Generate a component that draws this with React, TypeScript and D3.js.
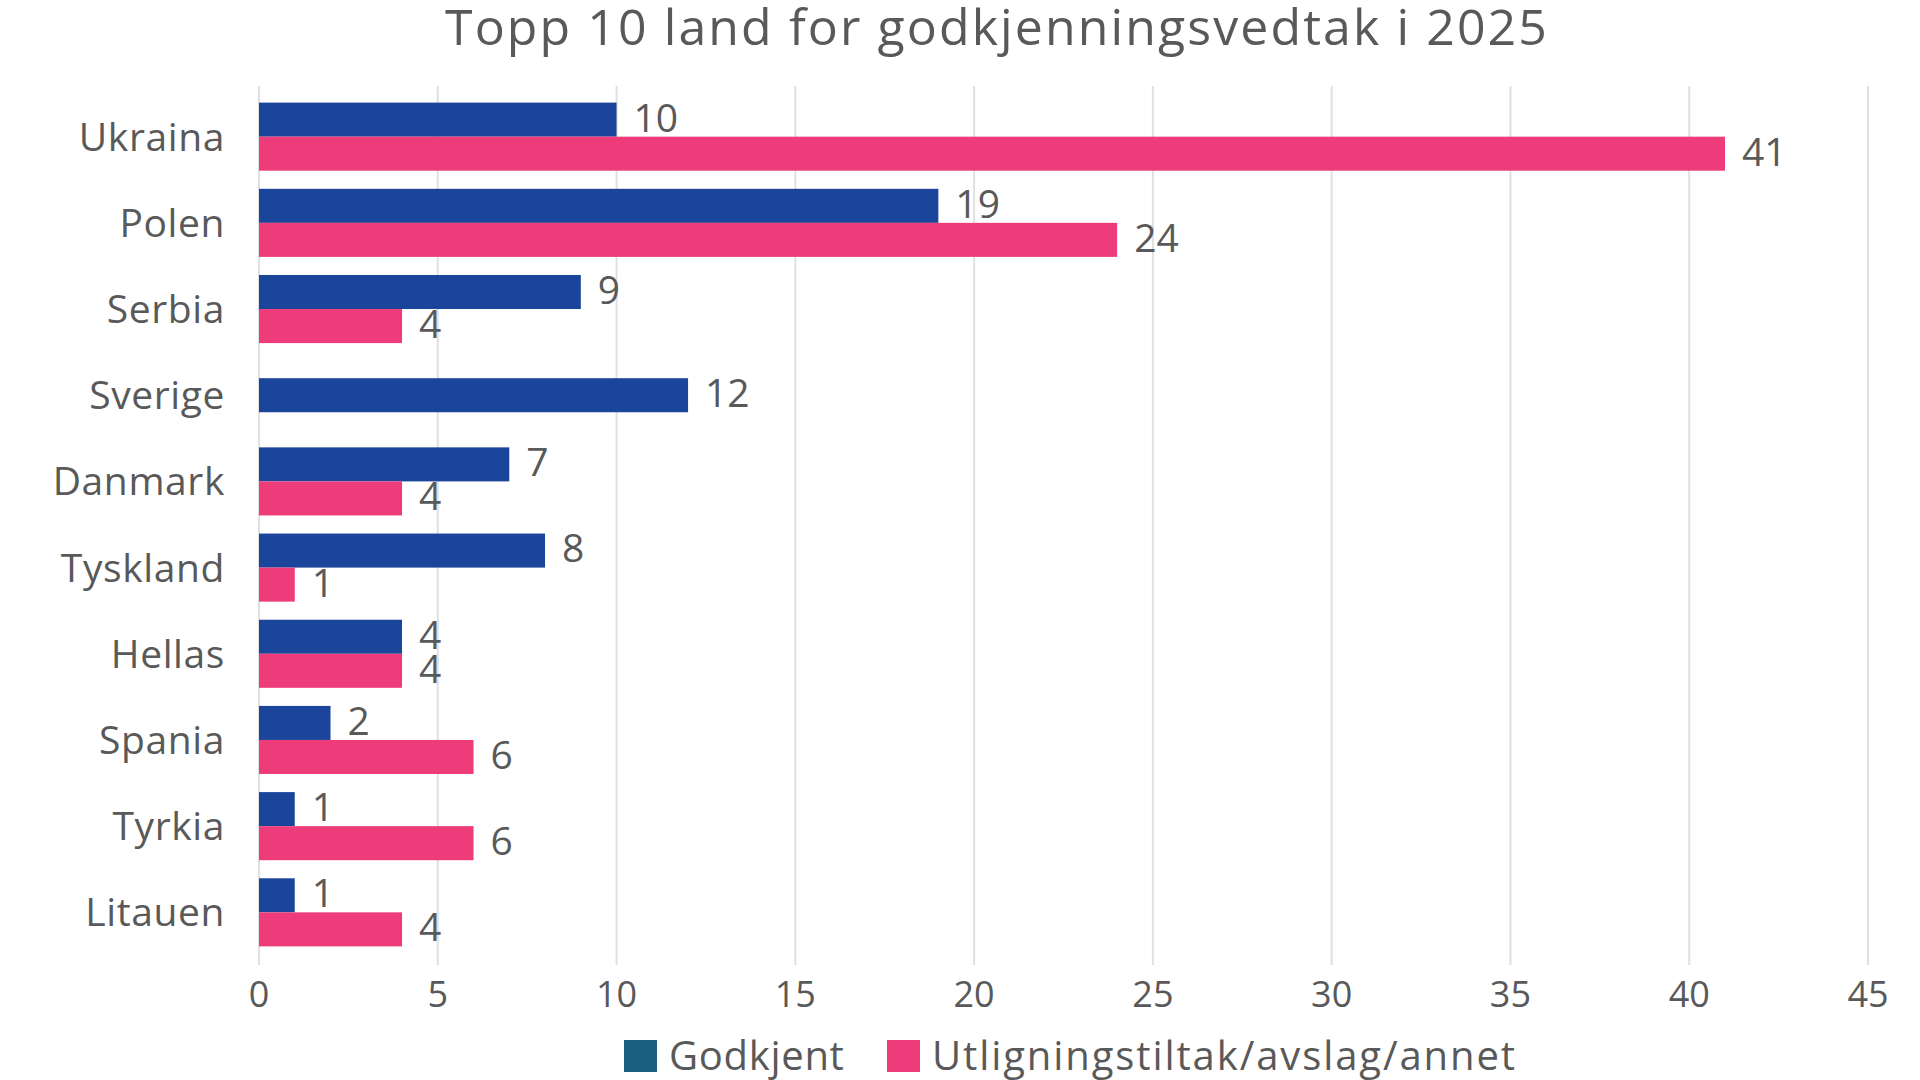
import React from "react";
import * as d3 from "d3";

const title = "Topp 10 land for godkjenningsvedtak i 2025";
const countries = [
  "Ukraina",
  "Polen",
  "Serbia",
  "Sverige",
  "Danmark",
  "Tyskland",
  "Hellas",
  "Spania",
  "Tyrkia",
  "Litauen",
];
const godkjent = [10, 19, 9, 12, 7, 8, 4, 2, 1, 1];
const utligning = [41, 24, 4, 0, 4, 1, 4, 6, 6, 4];
const seriesNames = ["Godkjent", "Utligningstiltak/avslag/annet"];
const xTicks = [0, 5, 10, 15, 20, 25, 30, 35, 40, 45];

const W = 1920;
const H = 1080;
const textColor = "#595959";
const barColors = ["#1B459B", "#EE3C7A"];
const legendColors = ["#1A5F80", "#EE3C7A"];
const font = "'Open Sans', sans-serif";

const App = () => {
  const x = d3.scaleLinear().domain([0, 45]).range([259, 1868]);
  const y = d3
    .scaleBand()
    .domain(countries)
    .range([94, 955])
    .paddingInner(0.21)
    .paddingOuter(0.1);
  const bw = y.bandwidth();
  const half = bw / 2;
  const labelFs = 39;

  // one entry per drawn bar; a country with only one series gets a centred bar
  const bars: any[] = [];
  countries.forEach((c, i) => {
    const vals = [godkjent[i], utligning[i]];
    const both = vals[0] > 0 && vals[1] > 0;
    vals.forEach((v, s) => {
      if (!v) return;
      const top = both ? y(c)! + s * half : y(c)! + half / 2;
      bars.push({ key: c + s, v, s, top });
    });
  });

  return (
    <svg
      width={W}
      height={H}
      style={{ position: "absolute", left: 0, top: 0, background: "#fff" }}
    >
      <text
        x={997}
        y={45}
        textAnchor="middle"
        fontFamily={font}
        fontSize={50}
        letterSpacing={2.1}
        fill={textColor}
      >
        {title}
      </text>

      {xTicks.map((t) => (
        <g key={t}>
          <line
            x1={x(t)}
            x2={x(t)}
            y1={86}
            y2={965}
            stroke="#E0E0E0"
            strokeWidth={2}
          />
          <text
            x={x(t)}
            y={1007}
            textAnchor="middle"
            fontFamily={font}
            fontSize={36}
            fill={textColor}
          >
            {t}
          </text>
        </g>
      ))}

      {countries.map((c) => (
        <text
          key={c}
          x={225}
          y={y(c)! + half + 0.357 * labelFs}
          textAnchor="end"
          fontFamily={font}
          fontSize={labelFs}
          letterSpacing={0.6}
          fill={textColor}
        >
          {c}
        </text>
      ))}

      {bars.map((b) => (
        <g key={b.key}>
          <rect
            x={x(0)}
            y={b.top}
            width={x(b.v) - x(0)}
            height={half}
            fill={barColors[b.s]}
          />
          <text
            x={x(b.v) + 17}
            y={b.top + half / 2 + 0.357 * labelFs - 2}
            fontFamily={font}
            fontSize={labelFs}
            fill={textColor}
          >
            {b.v}
          </text>
        </g>
      ))}

      {seriesNames.map((n, i) => {
        const sx = [624, 887][i];
        return (
          <g key={n}>
            <rect x={sx} y={1040} width={33} height={32} fill={legendColors[i]} />
            <text
              x={sx + 45}
              y={1070}
              fontFamily={font}
              fontSize={40}
              letterSpacing={i === 0 ? 0.7 : 1.9}
              fill={textColor}
            >
              {n}
            </text>
          </g>
        );
      })}
    </svg>
  );
};

export default App;
